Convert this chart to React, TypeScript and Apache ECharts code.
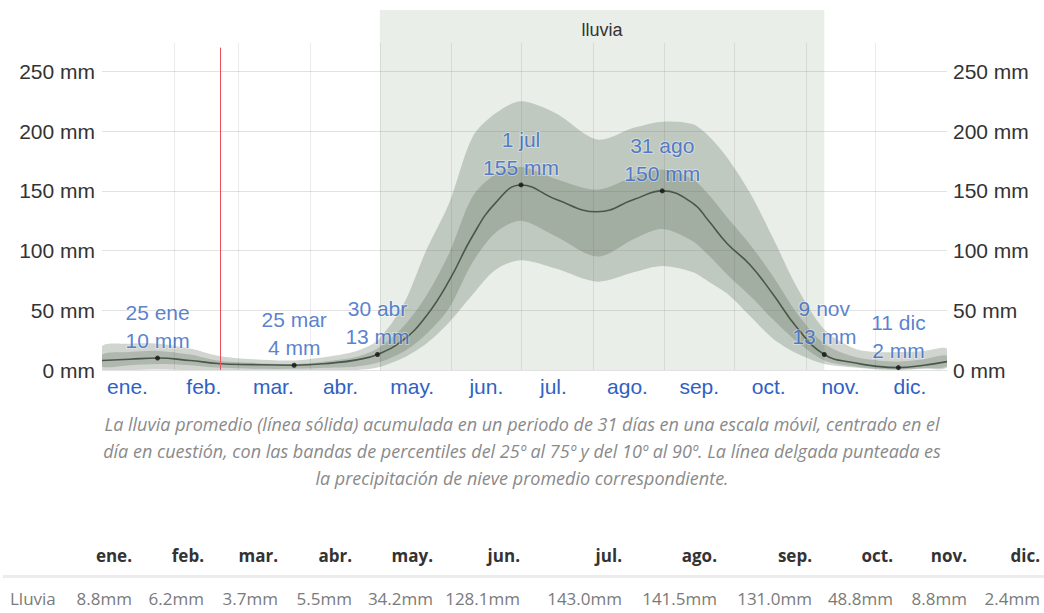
import React, { useEffect, useRef } from "react";
import * as echarts from "echarts";

// ---- data (day of year) ----
const days = [0, 12, 24, 38, 50, 65, 83, 100, 110, 119, 130, 140, 150, 160, 170, 181, 196, 214, 230, 242, 255, 262, 270, 280, 290, 300, 312, 325, 335, 344, 355, 365];
const meanRain = [8, 9, 10, 8, 5.5, 4.5, 4, 6, 8.5, 13, 25, 45, 75, 112, 140, 155, 143, 132.5, 143, 150, 140, 125, 106, 88, 63, 36, 13, 6, 3, 2, 4, 7];
const p10 = [0, 0, 0.5, 0, 0, 0, 0, 0, 0, 2, 10, 22, 40, 63, 84, 92, 85, 74, 82, 87, 82, 74, 64, 45, 26, 14, 5, 2, 0.5, 0, 1, 2];
const p25 = [3, 4, 5, 4, 2, 1, 1, 2, 3, 6, 15, 30, 52, 90, 115, 125, 112, 95, 110, 118, 108, 96, 80, 62, 42, 24, 8, 3, 1, 0.5, 1.5, 3];
const p75 = [13, 15, 16, 13, 8, 6, 5, 8, 11, 18, 36, 62, 98, 145, 164, 170, 160, 151, 162, 168, 160, 147, 128, 105, 78, 48, 22, 11, 8, 7, 9, 12];
const p90 = [20, 22, 22, 18, 12, 9, 8, 12, 16, 25, 54, 100, 140, 195, 215, 225, 215, 193, 203, 208, 206, 196, 178, 148, 110, 70, 34, 18, 15, 15, 16, 18];

const monthLabels = ["ene.", "feb.", "mar.", "abr.", "may.", "jun.", "jul.", "ago.", "sep.", "oct.", "nov.", "dic."];
const monthLabelDays = [11, 44, 74, 103, 134, 166, 195, 227, 258, 288, 319, 349];
const monthStartDays = [31, 59, 90, 120, 151, 181, 212, 243, 273, 304, 334];
const yTickValues = [0, 50, 100, 150, 200, 250];

const highlightDays = [24, 83, 119, 181, 242, 312, 344];
const highlightValues = [10, 4, 13, 155, 150, 13, 2];
const highlightLabels = ["25 ene", "25 mar", "30 abr", "1 jul", "31 ago", "9 nov", "11 dic"];

const rainySeason = [120, 312];
const rainyLabel = "lluvia";
const todayDay = 51;

const captionLines = [
  "La lluvia promedio (línea sólida) acumulada en un periodo de 31 días en una escala móvil, centrado en el",
  "día en cuestión, con las bandas de percentiles del 25º al 75º y del 10º al 90º. La línea delgada punteada es",
  "la precipitación de nieve promedio correspondiente.",
];

const tableRowLabel = "Lluvia";
const tableMonths = ["ene.", "feb.", "mar.", "abr.", "may.", "jun.", "jul.", "ago.", "sep.", "oct.", "nov.", "dic."];
const tableValues = ["8.8mm", "6.2mm", "3.7mm", "5.5mm", "34.2mm", "128.1mm", "143.0mm", "141.5mm", "131.0mm", "48.8mm", "8.8mm", "2.4mm"];

// layout (column right edges of the table)
const tableColRight = [132, 204, 278, 352, 433, 520, 622, 717, 812, 893, 967, 1040];

const Y_MAX = 301.5;
const GRID_LINE_TOP = 274;
const TODAY_LINE_TOP = 270;

function bandSeries(lo: number[], hi: number[], fill: string, z: number) {
  return {
    type: "custom",
    coordinateSystem: "cartesian2d",
    data: [[days[0], lo[0]]],
    clip: true,
    silent: true,
    z,
    renderItem: (_params: any, api: any) => {
      const upper = days.map((d, i) => api.coord([d, hi[i]]));
      const lower = days.map((d, i) => api.coord([d, lo[i]])).reverse();
      return {
        type: "polygon",
        shape: { points: upper.concat(lower), smooth: 0.3 },
        style: { fill },
      };
    },
  };
}

export default function App() {
  const ref = useRef<HTMLDivElement>(null);

  useEffect(() => {
    if (!ref.current) return;
    const chart = echarts.init(ref.current, undefined, { renderer: "svg" });

    const pts = (arr: number[]) => days.map((d, i) => [d, arr[i]]);

    const axisFont = { fontFamily: "Liberation Sans, Arial, sans-serif", fontSize: 21 };
    const blue = "#2f61c4";

    const yAxisCommon = {
      type: "value",
      min: 0,
      max: Y_MAX,
      interval: 50,
      axisLine: { show: false },
      axisTick: { show: false },
      axisLabel: {
        ...axisFont,
        color: "#333",
        formatter: (v: number) => (yTickValues.includes(v) ? `${v} mm` : ""),
      },
    };

    const option: any = {
      animation: false,
      grid: { left: 102, right: 97, top: 10, bottom: 243, containLabel: false },
      xAxis: {
        type: "value",
        min: 0,
        max: 365,
        axisLine: { show: false },
        axisTick: { show: false, customValues: monthLabelDays },
        splitLine: { show: false },
        axisLabel: {
          ...axisFont,
          color: blue,
          margin: 6,
          customValues: monthLabelDays,
          formatter: (v: number) => {
            const i = monthLabelDays.indexOf(v);
            return i >= 0 ? monthLabels[i] : "";
          },
        },
      },
      yAxis: [
        {
          ...yAxisCommon,
          position: "left",
          axisLabel: { ...yAxisCommon.axisLabel, margin: 7 },
          splitLine: {
            show: true,
            lineStyle: {
              color: ["#e2e2e2", "#e2e2e2", "#e2e2e2", "#e2e2e2", "#e2e2e2", "#e2e2e2", "rgba(0,0,0,0)", "rgba(0,0,0,0)"],
              width: 1,
            },
          },
        },
        {
          ...yAxisCommon,
          position: "right",
          axisLabel: { ...yAxisCommon.axisLabel, margin: 6 },
          splitLine: { show: false },
        },
      ],
      series: [
        bandSeries(p10, p90, "rgba(100,115,100,0.3)", 2),
        bandSeries(p25, p75, "rgba(80,95,80,0.26)", 2),
        {
          name: "Lluvia",
          type: "line",
          data: pts(meanRain),
          symbol: "none",
          smooth: 0.45,
          lineStyle: { color: "#485848", width: 1.6 },
          z: 3,
          silent: true,
          markArea: {
            silent: true,
            z: 1,
            itemStyle: { color: "rgba(110,140,110,0.15)" },
            label: {
              show: true,
              position: "insideTop",
              distance: 11,
              color: "#333",
              fontFamily: "Liberation Sans, Arial, sans-serif",
              fontSize: 18,
            },
            data: [[{ xAxis: rainySeason[0], name: rainyLabel }, { xAxis: rainySeason[1] }]],
          },
          markLine: {
            silent: true,
            symbol: ["none", "none"],
            label: { show: false },
            z: 5,
            data: [
              ...monthStartDays.map((d) => [
                { coord: [d, 0], lineStyle: { color: "rgba(0,0,0,0.08)", width: 1, type: "solid" } },
                { coord: [d, GRID_LINE_TOP] },
              ]),
              [
                { coord: [todayDay, 0], lineStyle: { color: "#e8505a", width: 1, type: "solid" } },
                { coord: [todayDay, TODAY_LINE_TOP] },
              ],
            ],
          },
        },
        {
          name: "highlights",
          type: "scatter",
          data: highlightDays.map((d, i) => ({ value: [d, highlightValues[i]], name: highlightLabels[i] })),
          symbolSize: 5,
          itemStyle: { color: "#111" },
          z: 4,
          silent: true,
          label: {
            show: true,
            position: "top",
            distance: 1,
            color: blue,
            fontFamily: "Liberation Sans, Arial, sans-serif",
            fontSize: 21,
            lineHeight: 28,
            align: "center",
            textBorderColor: "rgba(255,255,255,0.45)",
            textBorderWidth: 2,
            formatter: (p: any) => `${p.name}\n${p.value[1]} mm`,
          },
        },
      ],
      graphic: [
        ...captionLines.map((t, i) => ({
          type: "text",
          x: 522,
          y: 424 + i * 27,
          silent: true,
          style: {
            text: t,
            fill: "#8a8a8a",
            font: 'italic 18px "Open Sans", sans-serif',
            align: "center",
            verticalAlign: "middle",
          },
        })),
        {
          type: "rect",
          silent: true,
          shape: { x: 3, y: 575, width: 1041, height: 3 },
          style: { fill: "#ececec" },
        },
        {
          type: "text",
          x: 10,
          y: 598,
          silent: true,
          style: {
            text: tableRowLabel,
            fill: "#7a7a7a",
            font: '17px "Open Sans", sans-serif',
            align: "left",
            verticalAlign: "middle",
          },
        },
        ...tableMonths.map((m, i) => ({
          type: "text",
          x: tableColRight[i],
          y: 555,
          silent: true,
          style: {
            text: m,
            fill: "#333",
            font: 'bold 17px "Open Sans", sans-serif',
            align: "right",
            verticalAlign: "middle",
          },
        })),
        ...tableValues.map((v, i) => ({
          type: "text",
          x: tableColRight[i],
          y: 598,
          silent: true,
          style: {
            text: v,
            fill: "#7a7a7a",
            font: '17px "Open Sans", sans-serif',
            align: "right",
            verticalAlign: "middle",
          },
        })),
      ],
    };

    chart.setOption(option);
    return () => chart.dispose();
  }, []);

  return (
    <div
      ref={ref}
      style={{ position: "absolute", left: 0, top: 0, width: 1044, height: 613, background: "#fff" }}
    />
  );
}
